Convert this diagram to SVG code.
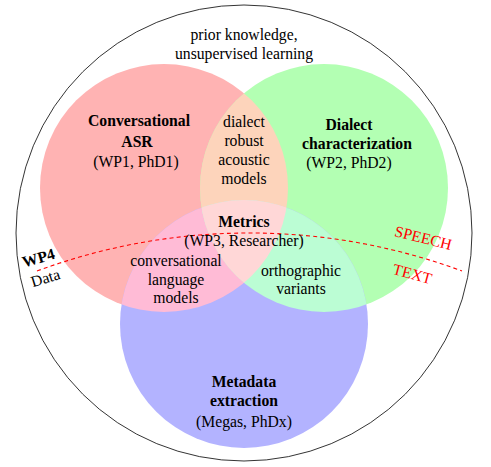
<svg xmlns="http://www.w3.org/2000/svg" width="491" height="467" viewBox="0 0 491 467">
<style>
text{font-family:"Liberation Serif","DejaVu Serif",serif;font-size:15.7px;fill:#000;text-anchor:middle}
.b{font-weight:bold}
.red{fill:#f00}
</style>
<defs>
<clipPath id="cR"><circle cx="164" cy="188" r="124"/></clipPath>
<clipPath id="cG"><circle cx="324" cy="188" r="124"/></clipPath>
<clipPath id="cB"><circle cx="244" cy="324" r="124"/></clipPath>
</defs>
<rect width="491" height="467" fill="#fff"/>
<g id="outer">
<circle cx="244" cy="233" r="228" fill="none" stroke="#000" stroke-width="0.8"/>
<text x="244" y="40">prior knowledge,</text>
<text x="244" y="59">unsupervised learning</text>
</g>
<g id="asr">
<circle cx="164" cy="188" r="124" fill="#ffb3b3"/>
</g>
<g id="dialect">
<circle cx="324" cy="188" r="124" fill="#b3ffb3"/>
</g>
<g id="metadata">
<circle cx="244" cy="324" r="124" fill="#b3b3ff"/>
</g>
<g id="overlaps">
<g clip-path="url(#cR)"><circle cx="324" cy="188" r="124" fill="#fdd4bb"/></g>
<g clip-path="url(#cR)"><circle cx="244" cy="324" r="124" fill="#ffbbd6"/></g>
<g clip-path="url(#cG)"><circle cx="244" cy="324" r="124" fill="#bbfdd4"/></g>
<g clip-path="url(#cR)"><g clip-path="url(#cG)"><circle cx="244" cy="324" r="124" fill="#ffd7d7"/></g></g>
</g>
<g id="connectors">
<path d="M37,271 A613,613 0 0 1 462,271" fill="none" stroke="#f00" stroke-width="1.1" stroke-dasharray="4 3.2"/>
</g>
<g id="asr-label">
<text class="b" x="139" y="126">Conversational</text>
<text class="b" x="137" y="147">ASR</text>
<text x="136" y="167">(WP1, PhD1)</text>
</g>
<g id="dialect-label">
<text class="b" x="349" y="130">Dialect</text>
<text class="b" x="357" y="149">characterization</text>
<text x="349" y="168">(WP2, PhD2)</text>
</g>
<g id="acoustic">
<text x="244" y="127">dialect</text>
<text x="244" y="146">robust</text>
<text x="244" y="165">acoustic</text>
<text x="244" y="184">models</text>
</g>
<g id="metrics">
<text class="b" x="244" y="227">Metrics</text>
<text x="244" y="246">(WP3, Researcher)</text>
</g>
<g id="lm">
<text x="176" y="266">conversational</text>
<text x="176" y="285">language</text>
<text x="176" y="303">models</text>
</g>
<g id="ortho">
<text x="301" y="276">orthographic</text>
<text x="301" y="294">variants</text>
</g>
<g id="metadata-label">
<text class="b" x="244" y="387">Metadata</text>
<text class="b" x="244" y="406">extraction</text>
<text x="244" y="427">(Megas, PhDx)</text>
</g>
<g id="wp4">
<text class="b" transform="translate(40,263) rotate(-16)">WP4</text>
<text transform="translate(47,283) rotate(-17)">Data</text>
</g>
<g id="speech-text">
<text class="red" transform="translate(422,243) rotate(14)">SPEECH</text>
<text class="red" transform="translate(411,279) rotate(15)">TEXT</text>
</g>
</svg>
